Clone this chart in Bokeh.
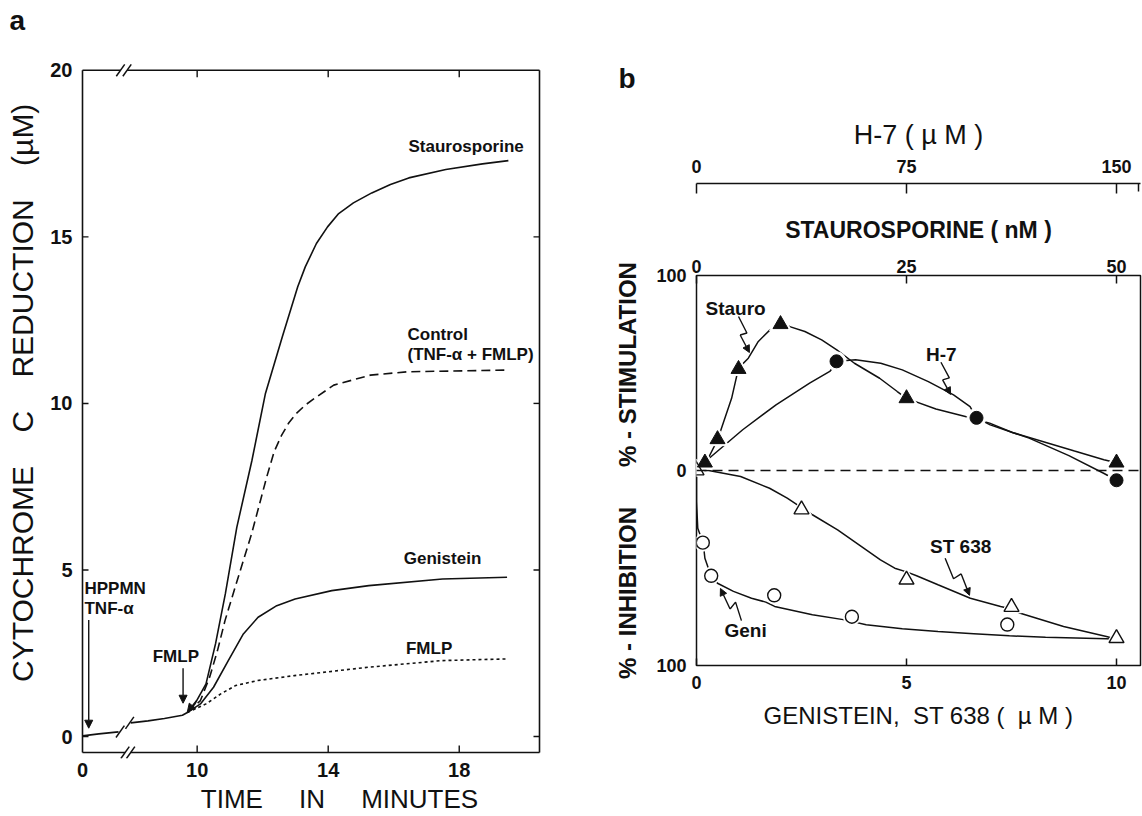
import numpy as np
from bokeh.plotting import figure
from bokeh.models import Range1d, LinearAxis, FixedTicker, Arrow, NormalHead, Span, Title
from bokeh.layouts import row
from bokeh.embed import file_html
from bokeh.resources import INLINE
from bokeh.core.properties import value

FONT = "Liberation Sans"
INK = "#111111"
NB = "\u00a0"

# ======================= Panel a data =======================
# time in minutes (broken axis: 0-1.1 min drawn before the break, then >= 7.97 min)
pre_t = [0.0, 0.5, 1.1]
pre_y = [0.02, 0.08, 0.14]
base_t = [7.97, 8.5, 9.0, 9.55, 9.7]
base_y = [0.41, 0.47, 0.54, 0.64, 0.72]
stauro_t = [9.7, 9.93, 10.27, 10.56, 10.86, 11.21, 11.67, 12.08, 12.6, 13.07, 13.3, 13.64,
            13.98, 14.32, 14.77, 15.33, 15.9, 16.46, 17.59, 18.71, 19.5]
stauro_y = [0.72, 0.98, 1.58, 2.78, 4.28, 6.28, 8.28, 10.28, 12.0, 13.5, 14.1, 14.8,
            15.3, 15.7, 16.02, 16.32, 16.57, 16.77, 17.02, 17.19, 17.29]
control_t = [9.7, 10.1, 10.38, 10.62, 10.85, 11.19, 11.66, 12.12, 12.35, 12.58, 12.8, 13.03,
             13.3, 13.65, 14.17, 15.29, 16.42, 19.39]
control_y = [0.72, 1.08, 1.78, 2.58, 3.48, 4.58, 6.08, 7.78, 8.55, 9.05, 9.42, 9.7,
             9.95, 10.2, 10.55, 10.85, 10.95, 11.0]
geni_t = [9.7, 10.1, 10.5, 10.95, 11.41, 11.86, 12.43, 12.99, 14.11, 15.24, 17.49, 19.46]
geni_y = [0.72, 0.98, 1.48, 2.28, 3.08, 3.58, 3.93, 4.13, 4.38, 4.53, 4.73, 4.78]
fmlp_t = [9.7, 10.27, 10.72, 11.17, 11.84, 12.97, 15.22, 17.47, 19.43]
fmlp_y = [0.72, 0.98, 1.28, 1.53, 1.68, 1.83, 2.08, 2.28, 2.33]

a_xticks = [0, 10, 14, 18]
a_yticks = [0, 5, 10, 15, 20]

# ======================= Panel b data =======================
# x in µM genistein / ST 638 ; staurosporine nM = 5x ; H-7 µM = 15x
stauro_conc = [1, 2.5, 5, 10, 25, 50]
stauro_pct = [4, 16, 52, 75, 37, 4]
h7_conc = [50, 100, 150]
h7_pct = [56, 27, -5]
st638_conc = [0, 2.5, 5, 7.5, 10]
st638_pct = [0, -20, -56, -70, -86]
gen_conc = [0.15, 0.35, 1.85, 3.7, 7.4]
gen_pct = [-37, -54, -64, -75, -79]

# traced fitted curves
stauro_cx = [0, 1.0, 1.4, 2.5, 4.18, 5.0, 6.17, 7.36, 8.75, 10.0, 11.1, 12.9, 14.9, 16.7,
             18.8, 21.8, 23.9, 25.0, 28.5, 32.0, 34.9, 37.6, 41.9, 45.0, 48.5, 50.0]
stauro_cy = [0, 3.7, 6.3, 15.7, 37, 52.5, 57.6, 66.2, 72.1, 75, 73.8, 71.3, 67, 61.9,
             55, 47.3, 40.5, 37, 31.5, 27.7, 24.3, 19.5, 14, 10, 5.5, 4]
h7_cx = [0, 3.9, 16.5, 28.4, 40.4, 47.6, 50.5, 56.8, 65.8, 73.5, 82.8, 91.8, 97.7, 100,
         104.9, 118.8, 133, 145.4, 150]
h7_cy = [0, 5.5, 20.9, 33.7, 44.8, 50.8, 56, 56.8, 55, 51.6, 45.6, 38.8, 32.8, 27,
         23.4, 16.6, 7.6, -1.4, -5]
st_cx = [0, 0.29, 1.05, 1.74, 2.16, 2.5, 2.76, 3.36, 3.87, 4.38, 4.72, 5.0, 5.24, 5.75,
         6.52, 7.24, 7.5, 7.71, 8.74, 9.76, 10.0]
st_cy = [0, 0, -3.1, -9.1, -14.2, -19, -22.7, -30.4, -38.1, -45.8, -50.1, -52, -54, -58.6,
         -65.5, -69.7, -71, -73.2, -80, -85.1, -86.5]
gen_cx = [0, 0.0, 0.03, 0.16, 0.2, 0.35, 0.5, 0.88, 1.31, 1.65, 1.86, 2.76, 3.53, 4.04,
          4.9, 5.75, 6.6, 7.45, 8.31, 9.76, 10.0]
gen_cy = [0, -15.9, -29.6, -37.3, -45, -54.4, -57.8, -62, -65.5, -67.5, -69.7, -74, -76.6,
          -79.1, -81.2, -82.6, -83.7, -84.8, -85.5, -86.3, -86.5]

b_xticks = [0, 5, 10]
stauro_ticks = [0, 25, 50]
h7_ticks = [0, 75, 150]
b_yticks = [-100, 0, 100]

# ======================= Panel a =======================
BREAK0 = 6.5      # display position of t = 0
PRE_MAX = 1.2     # last real minute drawn before the break


def tmap(t):
    t = np.asarray(t, float)
    return np.where(t <= PRE_MAX, t + BREAK0, t)


WA, HA = 600, 816
FA_L, FA_R, FA_T, FA_B = 82, 539, 70, 756
BK_L, BK_R, BK_T, BK_B = 78, 600, 35, 762
X0, X1 = BREAK0, 20.45
Y0, Y1 = -0.48, 20.0
sx = (FA_R - FA_L) / (X1 - X0)
sy = (FA_B - FA_T) / (Y1 - Y0)

pa = figure(width=WA, height=HA,
            x_range=Range1d(X0 - (FA_L - BK_L) / sx, X1 + (BK_R - FA_R) / sx),
            y_range=Range1d(Y0 - (BK_B - FA_B) / sy, Y1 + (FA_T - BK_T) / sy),
            output_backend="svg", toolbar_location=None,
            min_border_left=BK_L, min_border_right=WA - BK_R,
            min_border_top=BK_T, min_border_bottom=HA - BK_B,
            outline_line_color=None, background_fill_color="white",
            border_fill_color="white")
pa.frame_align = False
pa.title = Title(text="a", align="left", offset=-69, standoff=0,
                 text_font=FONT, text_font_size="28px", text_font_style="bold",
                 text_color=INK)
pa.grid.visible = False

for ax in (pa.xaxis[0], pa.yaxis[0]):
    ax.axis_line_color = None
    ax.major_tick_line_color = None
    ax.minor_tick_line_color = None
    ax.major_tick_in = 0
    ax.major_tick_out = 0
    ax.major_label_text_font = FONT
    ax.major_label_text_font_size = "20px"
    ax.major_label_text_font_style = "bold"
    ax.major_label_text_color = INK
    ax.axis_label_text_font = FONT
    ax.axis_label_text_font_style = "normal"
    ax.axis_label_text_color = INK

xt = [float(v) for v in tmap(a_xticks)]
pa.xaxis.ticker = FixedTicker(ticks=xt)
pa.xaxis.major_label_overrides = {xt[i]: str(a_xticks[i]) for i in range(len(xt))}
pa.xaxis.major_label_standoff = 4
pa.xaxis.axis_label = "TIME" + NB * 5 + "IN" + NB * 5 + "MINUTES"
pa.xaxis.axis_label_text_font_size = "26px"
pa.xaxis.axis_label_standoff = 4

pa.yaxis.ticker = FixedTicker(ticks=a_yticks)
pa.yaxis.major_label_standoff = 6
pa.yaxis.axis_label = (NB + "CYTOCHROME" + NB * 4 + "C" + NB * 4 + "REDUCTION"
                       + NB * 4 + "(µM)")
pa.yaxis.axis_label_text_font_size = "30px"
pa.yaxis.axis_label_standoff = 8

# frame with axis breaks
TOP_BRK = [7.66, 7.86]
BOT_BRK = [7.8, 7.97]
fx0 = [X0, X1, X0, TOP_BRK[1], X0, BOT_BRK[1]]
fy0 = [Y0, Y0, Y1, Y1, Y0, Y0]
fx1 = [X0, X1, TOP_BRK[0], X1, BOT_BRK[0], X1]
fy1 = [Y1, Y1, Y1, Y1, Y0, Y0]
pa.segment(fx0, fy0, fx1, fy1, line_color=INK, line_width=1.6)

# inward ticks
tl = 6.0
side_y = a_yticks[:-1]
pa.segment([X0] * len(side_y), side_y, [X0 + tl / sx] * len(side_y), side_y,
           line_color=INK, line_width=1.4)
pa.segment([X1] * len(side_y), side_y, [X1 - tl / sx] * len(side_y), side_y,
           line_color=INK, line_width=1.4)
tb = xt[1:]
pa.segment(tb, [Y1] * len(tb), tb, [Y1 - 7 / sy] * len(tb), line_color=INK, line_width=1.4)
pa.segment(tb, [Y0] * len(tb), tb, [Y0 + 7 / sy] * len(tb), line_color=INK, line_width=1.4)

# break slashes (axis and curve)
sl_x = [TOP_BRK[0], TOP_BRK[1], BOT_BRK[0], BOT_BRK[1], 7.65, 7.94]
sl_y = [Y1, Y1, Y0, Y0, 0.15, 0.41]
hx, hy = 4.2 / sx, 6.0 / sy
pa.segment([v - hx for v in sl_x], [v - hy for v in sl_y],
           [v + hx for v in sl_x], [v + hy for v in sl_y], line_color=INK, line_width=1.5)

# curves
LW = 1.6
pa.line(tmap(pre_t), pre_y, line_color=INK, line_width=LW)
pa.line(tmap(base_t), base_y, line_color=INK, line_width=LW)
pa.line(tmap(stauro_t), stauro_y, line_color=INK, line_width=LW)
pa.line(tmap(control_t), control_y, line_color=INK, line_width=LW, line_dash="9 5")
pa.line(tmap(geni_t), geni_y, line_color=INK, line_width=LW)
pa.line(tmap(fmlp_t), fmlp_y, line_color=INK, line_width=LW, line_dash="3 3")

# annotations
txt_kw = dict(text_font=value(FONT), text_font_size="17px", text_font_style="bold",
              text_color=INK, text_baseline="middle")
pa.text(x=[18.21, 17.49, 17.08, 9.35], y=[17.71, 5.33, 2.63, 2.41],
        text=["Staurosporine", "Genistein", "FMLP", "FMLP"], text_align="center", **txt_kw)
pa.text(x=[16.42, 16.42, 6.56, 6.56], y=[12.08, 11.48, 4.43, 3.83],
        text=["Control", "(TNF-α + FMLP)", "HPPMN", "TNF-α"], text_align="left", **txt_kw)

arrows_a = [((float(tmap(0.19)), 3.5), (float(tmap(0.19)), 0.25)),
            ((9.57, 2.05), (9.57, 1.0)),
            ((9.98, 1.08), (9.7, 0.74))]
for (xs, ys), (xe, ye) in arrows_a:
    pa.add_layout(Arrow(end=NormalHead(size=8, fill_color=INK, line_color=INK, line_width=1),
                        x_start=xs, y_start=ys, x_end=xe, y_end=ye,
                        line_color=INK, line_width=1.4))

# ======================= Panel b =======================
WB, HB = 542, 816
FB_L, FB_R, FB_T, FB_B = 96, 540, 275, 665
GX_MAX = (FB_R - FB_L) / 42.0

pb = figure(width=WB, height=HB,
            x_range=Range1d(0, GX_MAX), y_range=Range1d(-100, 100),
            output_backend="svg", toolbar_location=None,
            min_border_left=FB_L, min_border_right=WB - FB_R,
            min_border_top=FB_T, min_border_bottom=HB - FB_B,
            outline_line_color=INK, outline_line_width=1.5,
            background_fill_color="white", border_fill_color="white")
pb.frame_align = False
pb.title = Title(text="b", align="left", offset=-78, standoff=45,
                 text_font=FONT, text_font_size="28px", text_font_style="bold",
                 text_color=INK)
pb.extra_x_ranges = {"stauro": Range1d(0, GX_MAX * 5), "h7": Range1d(0, GX_MAX * 15)}
pb.grid.visible = False


def style_axis(ax, size="18px"):
    ax.major_label_text_font = FONT
    ax.major_label_text_font_size = size
    ax.major_label_text_font_style = "bold"
    ax.major_label_text_color = INK
    ax.axis_label_text_font = FONT
    ax.axis_label_text_color = INK
    ax.minor_tick_line_color = None
    ax.major_tick_line_color = INK
    ax.major_tick_line_width = 1.5
    ax.major_tick_out = 0


bx = pb.xaxis[0]
style_axis(bx)
bx.axis_line_color = None
bx.ticker = FixedTicker(ticks=b_xticks)
bx.major_tick_in = 7
bx.major_label_standoff = 10
bx.axis_label = "GENISTEIN," + NB * 2 + "ST 638 (" + NB * 2 + "µ M )"
bx.axis_label_text_font_size = "24px"
bx.axis_label_text_font_style = "normal"
bx.axis_label_standoff = 10

by = pb.yaxis[0]
style_axis(by)
by.axis_line_color = None
by.ticker = FixedTicker(ticks=b_yticks)
by.major_label_overrides = {-100: "100", 0: "0", 100: "100"}
by.major_tick_in = 0
by.major_label_standoff = 10
by.axis_label = ("%" + NB + "-" + NB + "INHIBITION" + NB * 6 + "%" + NB + "-" + NB
                 + "STIMULATION")
by.axis_label_text_font_size = "24px"
by.axis_label_text_font_style = "bold"
by.axis_label_standoff = 12

ax_st = LinearAxis(x_range_name="stauro", ticker=FixedTicker(ticks=stauro_ticks))
style_axis(ax_st)
ax_st.axis_line_color = None
ax_st.major_tick_in = 8
ax_st.major_label_standoff = 3
ax_st.axis_label = NB + "\nSTAUROSPORINE ( nM )"
ax_st.axis_label_text_font_size = "23px"
ax_st.axis_label_text_font_style = "bold"
ax_st.axis_label_text_line_height = 1.16
ax_st.axis_label_standoff = 14
pb.add_layout(ax_st, "above")

ax_h7 = LinearAxis(x_range_name="h7",
                   ticker=FixedTicker(ticks=h7_ticks, minor_ticks=[GX_MAX * 15 - 0.6]))
style_axis(ax_h7)
ax_h7.axis_line_color = INK
ax_h7.axis_line_width = 1.5
ax_h7.major_tick_in = 10
ax_h7.minor_tick_line_color = INK
ax_h7.minor_tick_line_width = 1.5
ax_h7.minor_tick_in = 8
ax_h7.minor_tick_out = 0
ax_h7.major_label_standoff = 11
ax_h7.axis_label = "H-7 ( µ M )"
ax_h7.axis_label_text_font_size = "27px"
ax_h7.axis_label_text_font_style = "normal"
ax_h7.axis_label_standoff = 7
pb.add_layout(ax_h7, "above")

pb.add_layout(Span(location=0, dimension="width", line_color=INK, line_width=1.4,
                   line_dash="10 6"))

BLW = 1.5
pb.line(stauro_cx, stauro_cy, x_range_name="stauro", line_color=INK, line_width=BLW)
pb.line(h7_cx, h7_cy, x_range_name="h7", line_color=INK, line_width=BLW)
pb.line(st_cx, st_cy, line_color=INK, line_width=BLW)
pb.line(gen_cx, gen_cy, line_color=INK, line_width=BLW)

# white halos then markers
pb.scatter(stauro_conc, stauro_pct, x_range_name="stauro", marker="triangle", size=22,
           color="white")
pb.scatter(h7_conc, h7_pct, x_range_name="h7", marker="circle", size=19, color="white")
pb.scatter(st638_conc, st638_pct, marker="triangle", size=20, color="white")
pb.scatter(gen_conc, gen_pct, marker="circle", size=17, color="white")

pb.scatter(st638_conc, st638_pct, marker="triangle", size=15, fill_color="white",
           line_color=INK, line_width=1.4)
pb.scatter(gen_conc, gen_pct, marker="circle", size=13, fill_color="white",
           line_color=INK, line_width=1.4)
pb.scatter(stauro_conc, stauro_pct, x_range_name="stauro", marker="triangle", size=15,
           fill_color=INK, line_color=INK)
pb.scatter(h7_conc, h7_pct, x_range_name="h7", marker="circle", size=13,
           fill_color=INK, line_color=INK)

# labels with zig-zag pointers
pb.text(x=[0.93, 5.83, 6.29, 1.17], y=[83.1, 59.5, -39, -82],
        text=["Stauro", "H-7", "ST 638", "Geni"], text_font=value(FONT),
        text_font_size="19px", text_font_style="bold", text_color=INK,
        text_align="center", text_baseline="middle")

zig = [
    [(1.0, 79.0), (1.2, 70.5), (1.04, 69.5), (1.26, 60.5)],
    [(5.82, 55.5), (6.02, 47.5), (5.86, 46.5), (6.05, 39.0)],
    [(5.92, -45.0), (6.12, -55.5), (6.3, -53.0), (6.5, -64.0)],
    [(1.07, -77.0), (0.93, -67.5), (0.8, -71.0), (0.57, -60.5)],
]
pb.multi_line([[p[0] for p in z[:3]] for z in zig], [[p[1] for p in z[:3]] for z in zig],
              line_color=INK, line_width=1.4)
for z in zig:
    pb.add_layout(Arrow(end=NormalHead(size=7, fill_color=INK, line_color=INK, line_width=1),
                        x_start=z[2][0], y_start=z[2][1], x_end=z[3][0], y_end=z[3][1],
                        line_color=INK, line_width=1.4))

layout = row(pa, pb)
open("out.html", "w").write(file_html(layout, INLINE))
